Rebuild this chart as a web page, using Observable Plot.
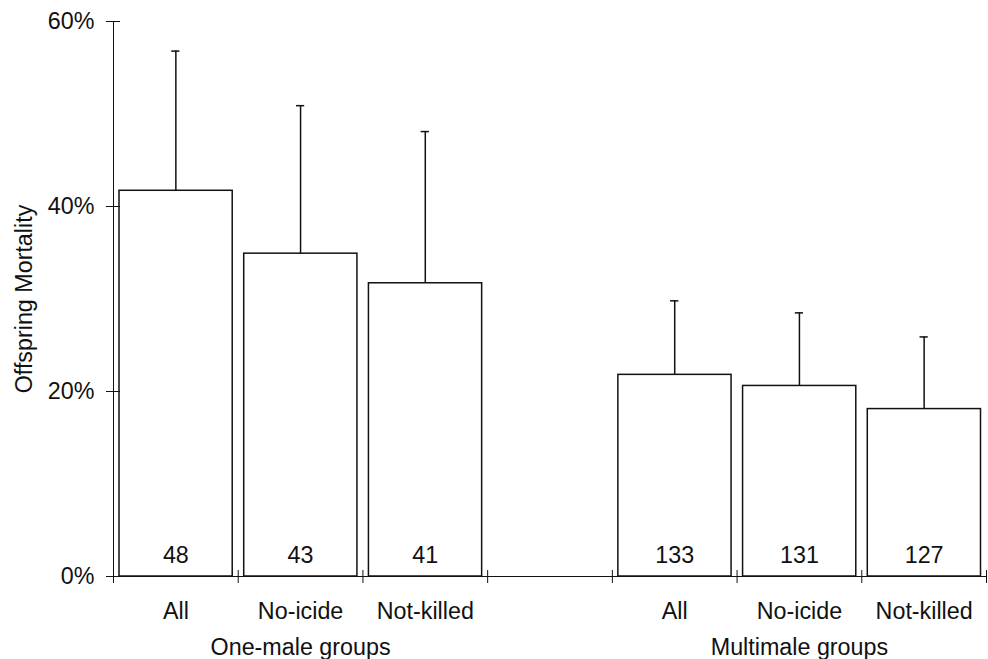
<!DOCTYPE html>
<html>
<head>
<meta charset="utf-8">
<script src="https://cdn.jsdelivr.net/npm/d3@7"></script>
<script src="https://cdn.jsdelivr.net/npm/@observablehq/plot@0.6"></script>
<style>
  html, body { margin: 0; padding: 0; background: white; }
  #chart svg { display: block; }
</style>
</head>
<body>
<div id="chart"></div>
<script>
const categories = ["All", "No-icide", "Not-killed"];
const groups = ["One-male groups", "Multimale groups"];
const mortality = [41.7, 34.9, 31.7, 21.8, 20.6, 18.1];
const upperLimit = [56.8, 50.9, 48.1, 29.8, 28.5, 25.9];
const sampleSize = [48, 43, 41, 133, 131, 127];
const yTicks = [0, 20, 40, 60];
const yLabel = "Offspring Mortality";

const perGroup = categories.length + 1;
const slots = groups.length * perGroup - 1;
const data = mortality.map((v, i) => ({
  group: groups[Math.floor(i / categories.length)],
  cat: categories[i % categories.length],
  slot: Math.floor(i / categories.length) * perGroup + (i % categories.length),
  value: v,
  upper: upperLimit[i],
  n: sampleSize[i]
}));
const groupData = groups.map((g, gi) => ({label: g, center: gi * perGroup + categories.length / 2}));
const boundaries = d3.range(0, slots + 1);
const capHalf = 0.033;
const font = "Liberation Sans, Arial, Helvetica, sans-serif";
const fs = 23.3;

const chart = Plot.plot({
  width: 988,
  height: 659,
  marginLeft: 113,
  marginRight: 2,
  marginTop: 21,
  marginBottom: 83,
  style: {fontFamily: font, fontSize: fs + "px", color: "#111", background: "white"},
  x: {domain: [0, slots], axis: null},
  y: {domain: [0, 60], axis: null},
  marks: [
    Plot.rectY(data, {x1: "slot", x2: d => d.slot + 1, y: "value", insetLeft: 6, insetRight: 5.5, fill: "white", stroke: "#111", strokeWidth: 1.5}),
    Plot.ruleX(data, {x: d => d.slot + 0.5, y1: "value", y2: "upper", stroke: "#111", strokeWidth: 1.5}),
    Plot.ruleY(data, {y: "upper", x1: d => d.slot + 0.5 - capHalf, x2: d => d.slot + 0.5 + capHalf, stroke: "#111", strokeWidth: 1.5}),
    Plot.text(data, {x: d => d.slot + 0.5, text: d => String(d.n), frameAnchor: "bottom", lineAnchor: "bottom", dy: -14, fontSize: fs, fill: "#111"}),
    Plot.ruleX([0], {y1: 0, y2: 60, stroke: "#111", strokeWidth: 1}),
    Plot.ruleY([0], {x1: 0, x2: slots, stroke: "#111", strokeWidth: 1}),
    Plot.axisY({ticks: yTicks, tickSize: 7, tickPadding: 12, tickFormat: d => d + "%", fontSize: fs, label: null, stroke: "#111", fill: "#111"}),
    Plot.axisY({ticks: yTicks, tickSize: 7, dx: 7, fill: "none", label: null, stroke: "#111"}),
    Plot.axisX({ticks: boundaries, tickSize: 7, fill: "none", label: null, stroke: "#111"}),
    Plot.axisX({ticks: boundaries.slice(1), tickSize: 6, dy: -6, fill: "none", label: null, stroke: "#111"}),
    Plot.text(data, {x: d => d.slot + 0.5, text: "cat", frameAnchor: "bottom", lineAnchor: "top", dy: 26, fontSize: fs, fill: "#111"}),
    Plot.text(groupData, {x: "center", text: "label", frameAnchor: "bottom", lineAnchor: "top", dy: 62, fontSize: fs, fill: "#111"}),
    Plot.text([yLabel], {text: d => d, frameAnchor: "left", rotate: -90, dx: -89, textAnchor: "middle", lineAnchor: "middle", fontSize: fs, fill: "#111"})
  ]
});
document.getElementById("chart").appendChild(chart);
</script>
</body>
</html>
